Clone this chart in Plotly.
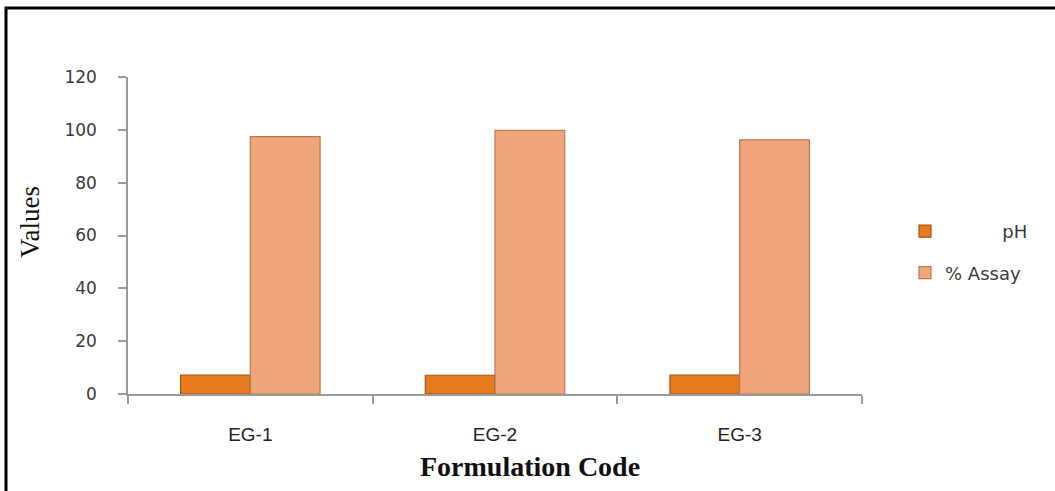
import plotly.graph_objects as go

# Formulation codes and measured values
formulations = ["EG-1", "EG-2", "EG-3"]
ph_values = [7.2, 7.1, 7.2]
assay_values = [97.4, 99.8, 96.2]
y_ticks = [0, 20, 40, 60, 80, 100, 120]

W, H = 1055, 491
L, R, T, B = 128, 193, 77, 97
pw, ph = W - L - R, H - T - B


def px_x(x):
    return (x - L) / pw


def px_y(y):
    return (H - B - y) / ph


tick_font = dict(family="DejaVu Sans", size=17, color="#3a3a3a")

fig = go.Figure()
fig.add_trace(go.Bar(
    x=formulations, y=ph_values,
    name="\u00a0" * 10 + "pH",
    legendgroup="a",
    marker=dict(color="#E57B1E", line=dict(color="#A9520F", width=1.2)),
))
fig.add_trace(go.Bar(
    x=formulations, y=assay_values, name="% Assay",
    legendgroup="b",
    marker=dict(color="#F0A67A", line=dict(color="#B87852", width=1.2)),
))

fig.update_layout(
    width=W, height=H,
    margin=dict(l=L, r=R, t=T, b=B, autoexpand=False),
    paper_bgcolor="white", plot_bgcolor="white",
    barmode="group", bargap=0.43, bargroupgap=0,
    showlegend=True,
    legend=dict(
        x=px_x(905), y=px_y(213), xanchor="left", yanchor="top",
        font=dict(family="DejaVu Sans", size=18, color="#3a3a3a"),
        tracegroupgap=15, itemwidth=30,
        bgcolor="rgba(0,0,0,0)",
    ),
    shapes=[dict(
        type="rect", xref="paper", yref="paper",
        x0=px_x(6), x1=px_x(W + 20),
        y0=px_y(H + 20), y1=px_y(8),
        line=dict(color="black", width=3), layer="below",
    )],
    annotations=[
        dict(text="<b>Formulation Code</b>", xref="paper", yref="paper",
             x=px_x(530), y=px_y(467), xanchor="center", yanchor="middle",
             showarrow=False,
             font=dict(family="Liberation Serif", size=28, color="#111")),
        dict(text="Values", xref="paper", yref="paper",
             x=px_x(30), y=px_y(222), xanchor="center", yanchor="middle",
             showarrow=False, textangle=-90,
             font=dict(family="Liberation Serif", size=27, color="#111")),
    ],
)

fig.update_xaxes(
    type="category", tickson="boundaries",
    showline=True, linecolor="#9a9a9a", linewidth=1.5,
    ticks="outside", ticklen=8, tickcolor="#9a9a9a", tickwidth=1.5,
    tickfont=dict(family="Liberation Sans Narrow, Liberation Sans", size=19, color="#222"),
    ticklabelstandoff=22,
    showgrid=False,
)
fig.update_yaxes(
    range=[0, 120], tickvals=y_ticks,
    showline=True, linecolor="#9a9a9a", linewidth=1.5,
    ticks="outside", ticklen=8, tickcolor="#9a9a9a", tickwidth=1.5,
    tickfont=tick_font, ticklabelstandoff=18,
    showgrid=False, zeroline=False,
)

fig.write_html("out.html")
